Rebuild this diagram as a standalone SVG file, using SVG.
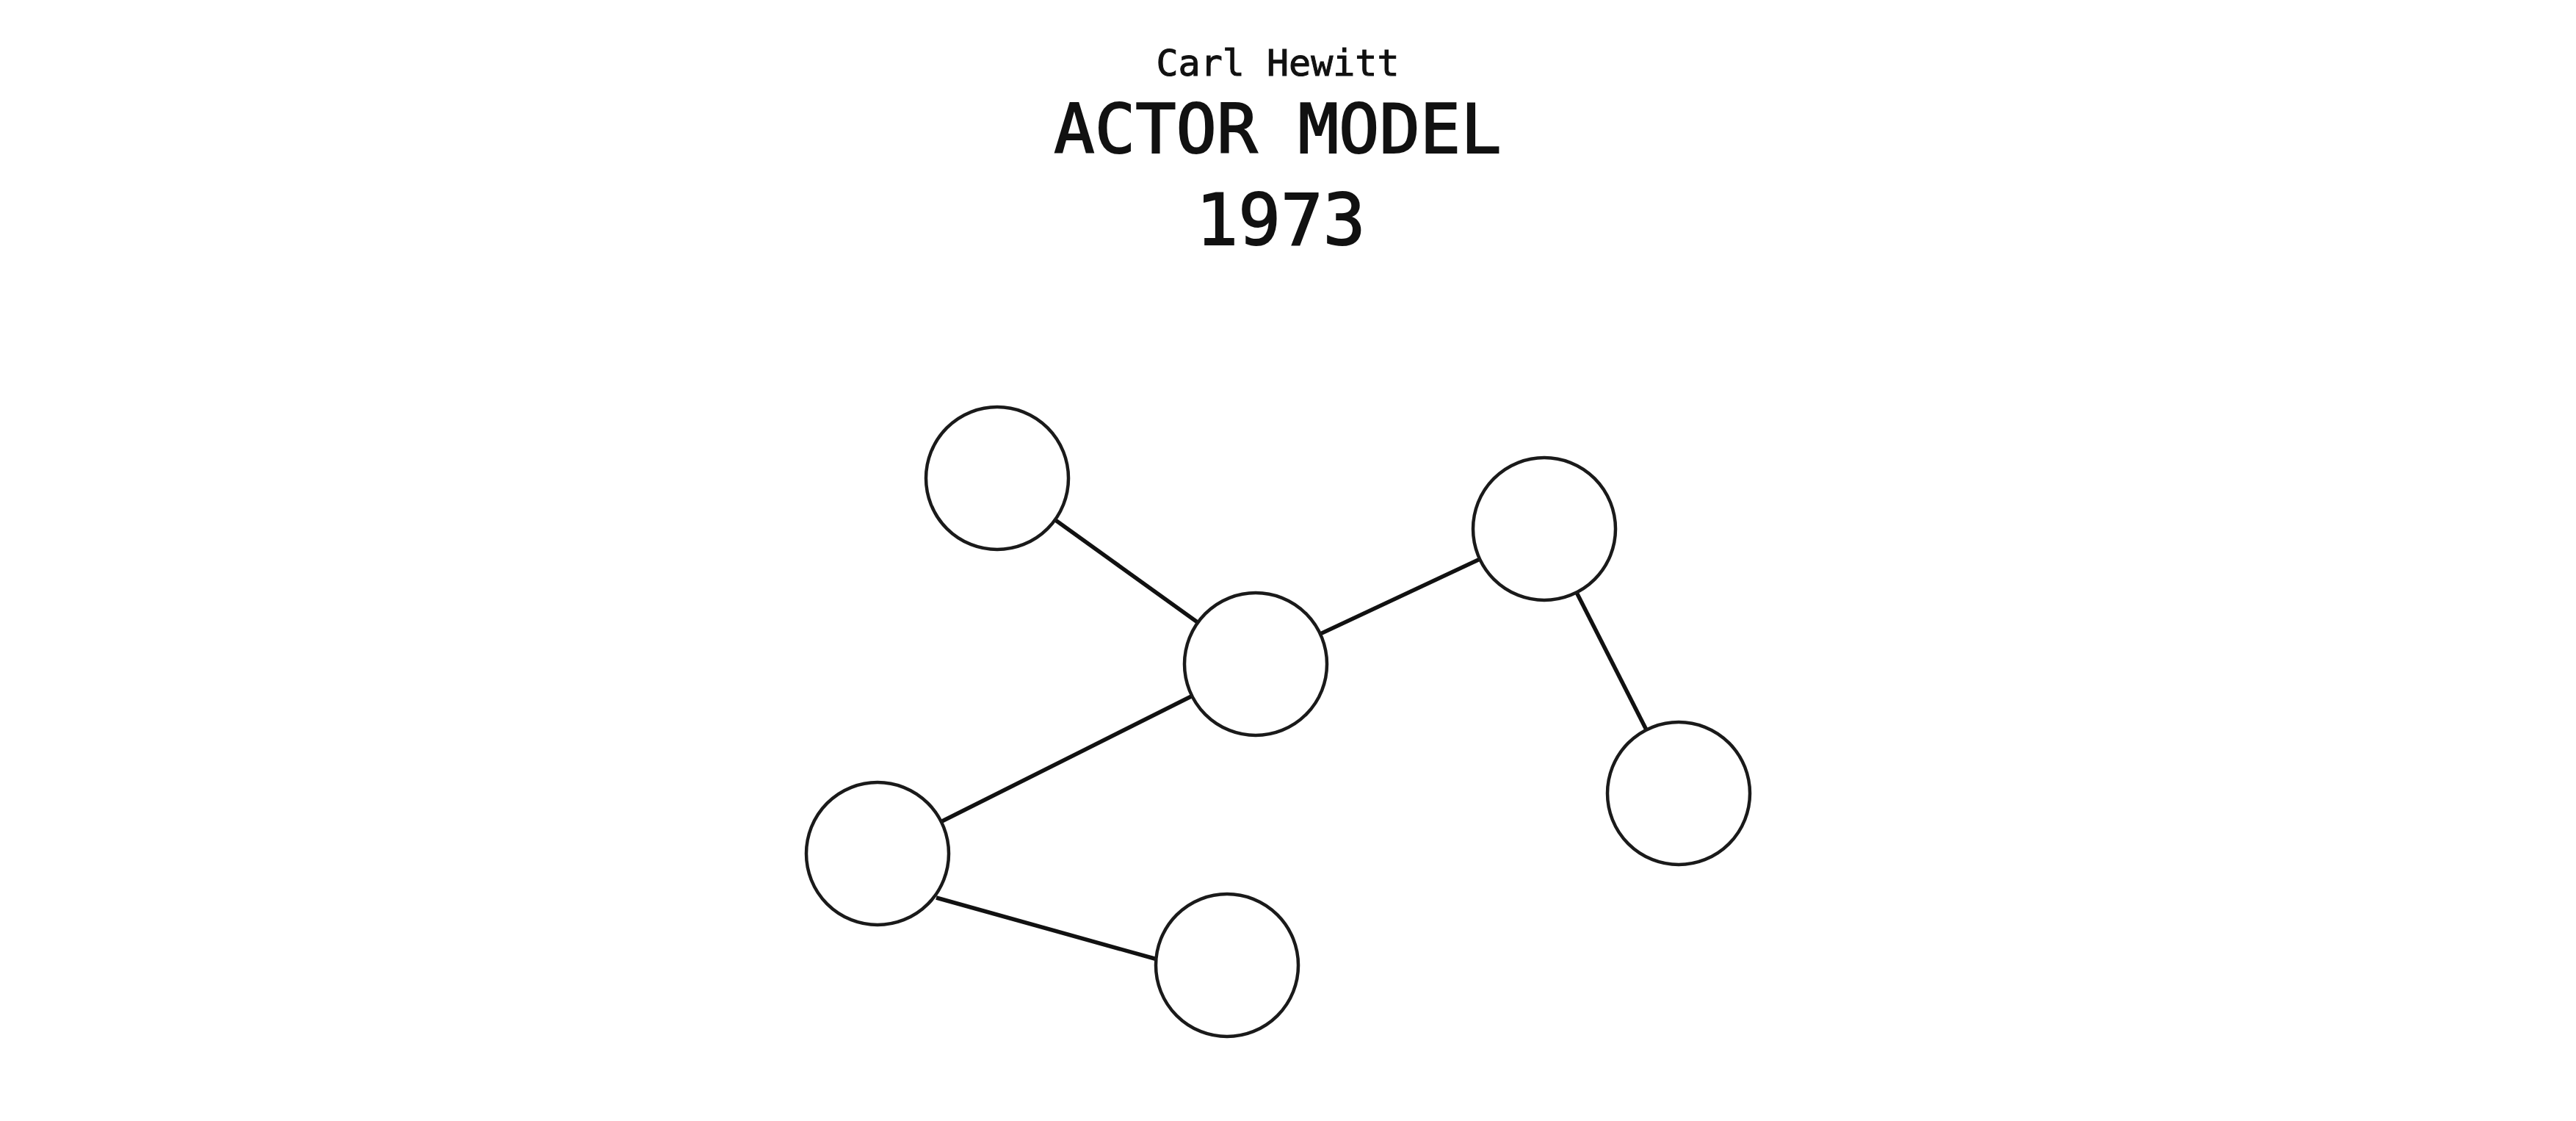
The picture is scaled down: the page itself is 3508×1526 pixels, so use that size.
<svg xmlns="http://www.w3.org/2000/svg" width="3508" height="1526" viewBox="0 0 3508 1526">
<style>
.t{font-family:"DejaVu Sans Mono","Liberation Mono",monospace;fill:#111;stroke:#111;text-anchor:middle}
.n{fill:#fff;stroke:#1a1a1a;stroke-width:4.5}
.e{stroke:#111;stroke-width:5.5;fill:none}
</style>
<rect width="3508" height="1526" fill="#fff"/>
<g id="title">
<text class="t" x="1740" y="103" font-size="50" stroke-width="1">Carl Hewitt</text>
<text class="t" x="1740" y="208" font-size="92" stroke-width="2">ACTOR MODEL</text>
<text class="t" x="1744" y="333" font-size="96" stroke-width="2">1973</text>
</g>
<g id="connectors">
<line class="e" x1="1358" y1="651" x2="1710" y2="904"/>
<line class="e" x1="1710" y1="904" x2="2103" y2="720"/>
<line class="e" x1="2103" y1="720" x2="2286" y2="1080"/>
<line class="e" x1="1710" y1="904" x2="1195" y2="1162"/>
<line class="e" x1="1275" y1="1222" x2="1576" y2="1306"/>
</g>
<g id="actor-a"><circle class="n" cx="1358" cy="651" r="97"/></g>
<g id="actor-b"><circle class="n" cx="1710" cy="904" r="97"/></g>
<g id="actor-c"><circle class="n" cx="2103" cy="720" r="97"/></g>
<g id="actor-d"><circle class="n" cx="2286" cy="1080" r="97"/></g>
<g id="actor-e"><circle class="n" cx="1195" cy="1162" r="97"/></g>
<g id="actor-f"><circle class="n" cx="1671" cy="1314" r="97"/></g>
</svg>
